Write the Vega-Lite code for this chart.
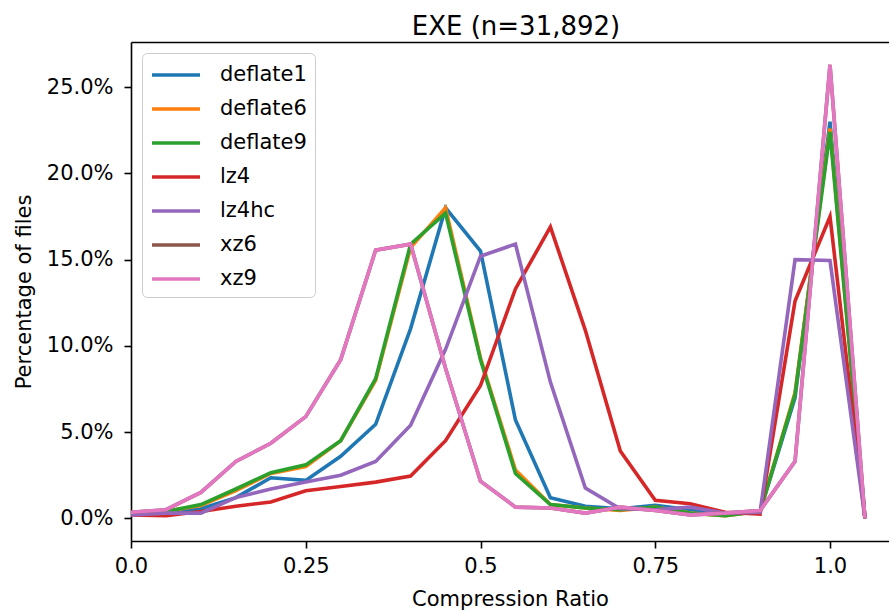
{
  "$schema": "https://vega.github.io/schema/vega-lite/v6.json",
  "autosize": {"type": "none"},
  "padding": {"left": 131, "top": 42, "right": 0, "bottom": 72},
  "width": 758,
  "height": 499,
  "background": "white",
  "config": {
    "font": "DejaVu Sans",
    "view": {"stroke": null},
    "axis": {
      "grid": false,
      "domainColor": "black",
      "domainWidth": 1.6,
      "tickColor": "black",
      "tickWidth": 1.6,
      "tickSize": 7,
      "labelColor": "black",
      "labelFontSize": 21,
      "labelPadding": 6,
      "titleColor": "black",
      "titleFontSize": 21,
      "titleFontWeight": "normal"
    }
  },
  "title": {
    "text": "EXE (n=31,892)",
    "fontSize": 26,
    "fontWeight": "normal",
    "color": "black",
    "anchor": "middle",
    "baseline": "bottom",
    "offset": 6,
    "dx": 6,
    "dy": 30
  },
  "data": {
    "values": [
      {"s": "deflate1", "x": 0.00, "pct": 0.25}, {"s": "deflate1", "x": 0.05, "pct": 0.3}, {"s": "deflate1", "x": 0.10, "pct": 0.55}, {"s": "deflate1", "x": 0.15, "pct": 1.2}, {"s": "deflate1", "x": 0.20, "pct": 2.35}, {"s": "deflate1", "x": 0.25, "pct": 2.2}, {"s": "deflate1", "x": 0.30, "pct": 3.6}, {"s": "deflate1", "x": 0.35, "pct": 5.45}, {"s": "deflate1", "x": 0.40, "pct": 11.0}, {"s": "deflate1", "x": 0.45, "pct": 18.0}, {"s": "deflate1", "x": 0.50, "pct": 15.5}, {"s": "deflate1", "x": 0.55, "pct": 5.7}, {"s": "deflate1", "x": 0.60, "pct": 1.2}, {"s": "deflate1", "x": 0.65, "pct": 0.7}, {"s": "deflate1", "x": 0.70, "pct": 0.55}, {"s": "deflate1", "x": 0.75, "pct": 0.75}, {"s": "deflate1", "x": 0.80, "pct": 0.5}, {"s": "deflate1", "x": 0.85, "pct": 0.3}, {"s": "deflate1", "x": 0.90, "pct": 0.4}, {"s": "deflate1", "x": 0.95, "pct": 7.0}, {"s": "deflate1", "x": 1.00, "pct": 23.0}, {"s": "deflate1", "x": 1.05, "pct": 0.0},
      {"s": "deflate6", "x": 0.00, "pct": 0.25}, {"s": "deflate6", "x": 0.05, "pct": 0.4}, {"s": "deflate6", "x": 0.10, "pct": 0.75}, {"s": "deflate6", "x": 0.15, "pct": 1.6}, {"s": "deflate6", "x": 0.20, "pct": 2.6}, {"s": "deflate6", "x": 0.25, "pct": 3.0}, {"s": "deflate6", "x": 0.30, "pct": 4.5}, {"s": "deflate6", "x": 0.35, "pct": 8.0}, {"s": "deflate6", "x": 0.40, "pct": 15.7}, {"s": "deflate6", "x": 0.45, "pct": 18.0}, {"s": "deflate6", "x": 0.50, "pct": 9.3}, {"s": "deflate6", "x": 0.55, "pct": 2.8}, {"s": "deflate6", "x": 0.60, "pct": 0.8}, {"s": "deflate6", "x": 0.65, "pct": 0.6}, {"s": "deflate6", "x": 0.70, "pct": 0.45}, {"s": "deflate6", "x": 0.75, "pct": 0.65}, {"s": "deflate6", "x": 0.80, "pct": 0.3}, {"s": "deflate6", "x": 0.85, "pct": 0.15}, {"s": "deflate6", "x": 0.90, "pct": 0.4}, {"s": "deflate6", "x": 0.95, "pct": 7.3}, {"s": "deflate6", "x": 1.00, "pct": 22.6}, {"s": "deflate6", "x": 1.05, "pct": 0.0},
      {"s": "deflate9", "x": 0.00, "pct": 0.25}, {"s": "deflate9", "x": 0.05, "pct": 0.4}, {"s": "deflate9", "x": 0.10, "pct": 0.8}, {"s": "deflate9", "x": 0.15, "pct": 1.7}, {"s": "deflate9", "x": 0.20, "pct": 2.65}, {"s": "deflate9", "x": 0.25, "pct": 3.1}, {"s": "deflate9", "x": 0.30, "pct": 4.5}, {"s": "deflate9", "x": 0.35, "pct": 8.1}, {"s": "deflate9", "x": 0.40, "pct": 15.9}, {"s": "deflate9", "x": 0.45, "pct": 17.7}, {"s": "deflate9", "x": 0.50, "pct": 9.2}, {"s": "deflate9", "x": 0.55, "pct": 2.6}, {"s": "deflate9", "x": 0.60, "pct": 0.8}, {"s": "deflate9", "x": 0.65, "pct": 0.6}, {"s": "deflate9", "x": 0.70, "pct": 0.5}, {"s": "deflate9", "x": 0.75, "pct": 0.65}, {"s": "deflate9", "x": 0.80, "pct": 0.3}, {"s": "deflate9", "x": 0.85, "pct": 0.15}, {"s": "deflate9", "x": 0.90, "pct": 0.4}, {"s": "deflate9", "x": 0.95, "pct": 7.2}, {"s": "deflate9", "x": 1.00, "pct": 22.4}, {"s": "deflate9", "x": 1.05, "pct": 0.0},
      {"s": "lz4", "x": 0.00, "pct": 0.2}, {"s": "lz4", "x": 0.05, "pct": 0.15}, {"s": "lz4", "x": 0.10, "pct": 0.4}, {"s": "lz4", "x": 0.15, "pct": 0.7}, {"s": "lz4", "x": 0.20, "pct": 0.95}, {"s": "lz4", "x": 0.25, "pct": 1.6}, {"s": "lz4", "x": 0.30, "pct": 1.85}, {"s": "lz4", "x": 0.35, "pct": 2.1}, {"s": "lz4", "x": 0.40, "pct": 2.45}, {"s": "lz4", "x": 0.45, "pct": 4.5}, {"s": "lz4", "x": 0.50, "pct": 7.7}, {"s": "lz4", "x": 0.55, "pct": 13.3}, {"s": "lz4", "x": 0.60, "pct": 16.9}, {"s": "lz4", "x": 0.65, "pct": 10.9}, {"s": "lz4", "x": 0.70, "pct": 3.9}, {"s": "lz4", "x": 0.75, "pct": 1.05}, {"s": "lz4", "x": 0.80, "pct": 0.85}, {"s": "lz4", "x": 0.85, "pct": 0.35}, {"s": "lz4", "x": 0.90, "pct": 0.25}, {"s": "lz4", "x": 0.95, "pct": 12.6}, {"s": "lz4", "x": 1.00, "pct": 17.5}, {"s": "lz4", "x": 1.05, "pct": 0.0},
      {"s": "lz4hc", "x": 0.00, "pct": 0.2}, {"s": "lz4hc", "x": 0.05, "pct": 0.3}, {"s": "lz4hc", "x": 0.10, "pct": 0.3}, {"s": "lz4hc", "x": 0.15, "pct": 1.2}, {"s": "lz4hc", "x": 0.20, "pct": 1.7}, {"s": "lz4hc", "x": 0.25, "pct": 2.1}, {"s": "lz4hc", "x": 0.30, "pct": 2.5}, {"s": "lz4hc", "x": 0.35, "pct": 3.3}, {"s": "lz4hc", "x": 0.40, "pct": 5.4}, {"s": "lz4hc", "x": 0.45, "pct": 9.8}, {"s": "lz4hc", "x": 0.50, "pct": 15.2}, {"s": "lz4hc", "x": 0.55, "pct": 15.9}, {"s": "lz4hc", "x": 0.60, "pct": 7.9}, {"s": "lz4hc", "x": 0.65, "pct": 1.75}, {"s": "lz4hc", "x": 0.70, "pct": 0.55}, {"s": "lz4hc", "x": 0.75, "pct": 0.5}, {"s": "lz4hc", "x": 0.80, "pct": 0.65}, {"s": "lz4hc", "x": 0.85, "pct": 0.3}, {"s": "lz4hc", "x": 0.90, "pct": 0.35}, {"s": "lz4hc", "x": 0.95, "pct": 15.0}, {"s": "lz4hc", "x": 1.00, "pct": 14.95}, {"s": "lz4hc", "x": 1.05, "pct": 0.0},
      {"s": "xz6", "x": 0.00, "pct": 0.35}, {"s": "xz6", "x": 0.05, "pct": 0.5}, {"s": "xz6", "x": 0.10, "pct": 1.5}, {"s": "xz6", "x": 0.15, "pct": 3.3}, {"s": "xz6", "x": 0.20, "pct": 4.35}, {"s": "xz6", "x": 0.25, "pct": 5.9}, {"s": "xz6", "x": 0.30, "pct": 9.2}, {"s": "xz6", "x": 0.35, "pct": 15.55}, {"s": "xz6", "x": 0.40, "pct": 15.9}, {"s": "xz6", "x": 0.45, "pct": 8.7}, {"s": "xz6", "x": 0.50, "pct": 2.15}, {"s": "xz6", "x": 0.55, "pct": 0.65}, {"s": "xz6", "x": 0.60, "pct": 0.6}, {"s": "xz6", "x": 0.65, "pct": 0.3}, {"s": "xz6", "x": 0.70, "pct": 0.65}, {"s": "xz6", "x": 0.75, "pct": 0.45}, {"s": "xz6", "x": 0.80, "pct": 0.2}, {"s": "xz6", "x": 0.85, "pct": 0.3}, {"s": "xz6", "x": 0.90, "pct": 0.45}, {"s": "xz6", "x": 0.95, "pct": 3.3}, {"s": "xz6", "x": 1.00, "pct": 26.3}, {"s": "xz6", "x": 1.05, "pct": 0.0},
      {"s": "xz9", "x": 0.00, "pct": 0.35}, {"s": "xz9", "x": 0.05, "pct": 0.5}, {"s": "xz9", "x": 0.10, "pct": 1.5}, {"s": "xz9", "x": 0.15, "pct": 3.3}, {"s": "xz9", "x": 0.20, "pct": 4.35}, {"s": "xz9", "x": 0.25, "pct": 5.9}, {"s": "xz9", "x": 0.30, "pct": 9.2}, {"s": "xz9", "x": 0.35, "pct": 15.55}, {"s": "xz9", "x": 0.40, "pct": 15.9}, {"s": "xz9", "x": 0.45, "pct": 8.7}, {"s": "xz9", "x": 0.50, "pct": 2.15}, {"s": "xz9", "x": 0.55, "pct": 0.65}, {"s": "xz9", "x": 0.60, "pct": 0.6}, {"s": "xz9", "x": 0.65, "pct": 0.3}, {"s": "xz9", "x": 0.70, "pct": 0.65}, {"s": "xz9", "x": 0.75, "pct": 0.45}, {"s": "xz9", "x": 0.80, "pct": 0.2}, {"s": "xz9", "x": 0.85, "pct": 0.3}, {"s": "xz9", "x": 0.90, "pct": 0.45}, {"s": "xz9", "x": 0.95, "pct": 3.3}, {"s": "xz9", "x": 1.00, "pct": 26.3}, {"s": "xz9", "x": 1.05, "pct": 0.0}
    ]
  },
  "layer": [
    {
      "mark": {"type": "line", "strokeWidth": 3.6, "strokeJoin": "miter", "strokeCap": "butt"},
      "encoding": {
        "x": {
          "field": "x",
          "type": "quantitative",
          "scale": {"domain": [0, 1.0844], "nice": false, "zero": false},
          "axis": {
            "orient": "bottom",
            "values": [0, 0.25, 0.5, 0.75, 1.0],
            "labelExpr": "datum.value == 0 ? '0.0' : datum.value == 1 ? '1.0' : toString(datum.value)",
            "labelFlush": false,
            "labelPadding": 7,
            "title": "Compression Ratio",
            "titlePadding": 12
          }
        },
        "y": {
          "field": "pct",
          "type": "quantitative",
          "scale": {"domain": [-1.315, 27.62], "nice": false, "zero": false},
          "axis": {
            "values": [0, 5, 10, 15, 20, 25],
            "labelExpr": "format(datum.value, '.1f') + '%'",
            "labelPadding": 11,
            "title": "Percentage of files",
            "titlePadding": 12
          }
        },
        "color": {
          "field": "s",
          "type": "nominal",
          "sort": ["deflate1", "deflate6", "deflate9", "lz4", "lz4hc", "xz6", "xz9"],
          "scale": {
            "domain": ["deflate1", "deflate6", "deflate9", "lz4", "lz4hc", "xz6", "xz9"],
            "range": ["#1f77b4", "#ff7f0e", "#2ca02c", "#d62728", "#9467bd", "#8c564b", "#e377c2"]
          },
          "legend": {
            "title": null,
            "orient": "top-left",
            "offset": 11,
            "padding": 8,
            "fillColor": "rgba(255,255,255,0.8)",
            "strokeColor": "#cccccc",
            "cornerRadius": 5,
            "symbolType": "M-2,0H2",
            "symbolSize": 576,
            "symbolOffset": 12,
            "symbolStrokeWidth": 3.6,
            "symbolOpacity": 1,
            "labelFontSize": 21,
            "labelColor": "black",
            "labelOffset": 30,
            "rowPadding": 10
          }
        }
      }
    },
    {
      "mark": {"type": "rule", "opacity": 0},
      "encoding": {
        "x": {
          "field": "x",
          "type": "quantitative",
          "axis": {"orient": "top", "labels": false, "ticks": false, "title": null, "minExtent": 0, "maxExtent": 0, "offset": 0}
        }
      }
    }
  ],
  "resolve": {"axis": {"x": "independent"}}
}
